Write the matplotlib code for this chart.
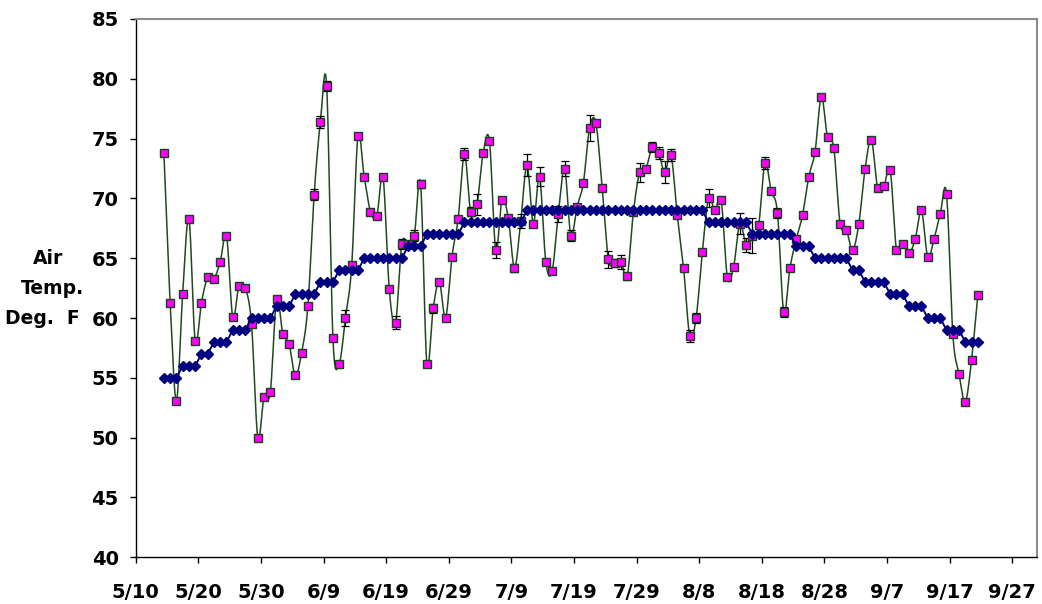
import numpy as np
import pandas as pd
import matplotlib
matplotlib.use("Agg")
import matplotlib.pyplot as plt
import matplotlib.dates as mdates

plt.rcParams["font.family"] = ["DejaVu Sans"]
plt.rcParams["font.weight"] = "bold"

# Daily mean air temperature (deg F), 5/14 through 9/21
observed = [
    73.8, 61.3, 53.1, 62.0, 68.3, 58.1, 61.3, 63.4, 63.3, 64.7,
    66.9, 60.1, 62.7, 62.5, 59.5, 50.0, 53.4, 53.8, 61.6, 58.7,
    57.8, 55.2, 57.1, 61.0, 70.3, 76.4, 79.4, 58.3, 56.2, 60.0,
    64.4, 75.2, 71.8, 68.9, 68.5, 71.8, 62.4, 59.6, 66.2, 66.2,
    66.9, 71.2, 56.2, 60.8, 63.0, 60.0, 65.1, 68.3, 73.7, 68.9,
    69.5, 73.8, 74.8, 65.7, 69.9, 68.4, 64.2, 68.1, 72.8, 67.9,
    71.8, 64.7, 63.9, 68.7, 72.5, 66.9, 69.3, 71.3, 75.9, 76.3,
    70.9, 64.9, 64.6, 64.7, 63.5, 68.9, 72.2, 72.5, 74.3, 73.8,
    72.2, 73.6, 68.6, 64.2, 58.5, 60.0, 65.5, 70.0, 69.0, 69.9,
    63.4, 64.3, 67.9, 66.1, 66.9, 67.8, 73.0, 70.6, 68.8, 60.5,
    64.2, 66.6, 68.6, 71.8, 73.9, 78.5, 75.1, 74.2, 67.9, 67.4,
    65.7, 67.9, 72.5, 74.9, 70.9, 71.0, 72.4, 65.7, 66.2, 65.4,
    66.6, 69.0, 65.1, 66.6, 68.7, 70.4, 58.7, 55.3, 53.0, 56.5,
    61.9,
]

# Uncertainty of each daily mean (deg F)
observed_err = [
    0.2, 0.2, 0.2, 0.2, 0.2, 0.2, 0.2, 0.2, 0.2, 0.2,
    0.2, 0.2, 0.2, 0.2, 0.2, 0.2, 0.2, 0.2, 0.2, 0.2,
    0.2, 0.2, 0.2, 0.2, 0.45, 0.5, 0.4, 0.2, 0.2, 0.7,
    0.2, 0.25, 0.2, 0.2, 0.2, 0.2, 0.2, 0.55, 0.4, 0.2,
    0.5, 0.3, 0.2, 0.35, 0.2, 0.2, 0.2, 0.2, 0.5, 0.4,
    0.85, 0.2, 0.2, 0.65, 0.2, 0.2, 0.35, 0.6, 0.95, 0.2,
    0.8, 0.2, 0.2, 0.65, 0.65, 0.5, 0.2, 0.2, 1.1, 0.2,
    0.2, 0.7, 0.3, 0.6, 0.3, 0.2, 0.8, 0.2, 0.4, 0.5,
    0.95, 0.5, 0.2, 0.2, 0.5, 0.45, 0.2, 0.75, 0.2, 0.2,
    0.2, 0.2, 0.9, 0.6, 1.45, 0.2, 0.5, 0.2, 0.4, 0.45,
    0.2, 0.2, 0.2, 0.2, 0.2, 0.2, 0.2, 0.2, 0.2, 0.2,
    0.2, 0.2, 0.2, 0.2, 0.2, 0.2, 0.2, 0.2, 0.2, 0.2,
    0.2, 0.2, 0.2, 0.2, 0.2, 0.2, 0.2, 0.2, 0.2, 0.2,
    0.2,
]

# Long-term normal daily temperature (deg F)
normal = [
    55, 55, 55, 56, 56, 56, 57, 57, 58, 58,
    58, 59, 59, 59, 60, 60, 60, 60, 61, 61,
    61, 62, 62, 62, 62, 63, 63, 63, 64, 64,
    64, 64, 65, 65, 65, 65, 65, 65, 65, 66,
    66, 66, 67, 67, 67, 67, 67, 67, 68, 68,
    68, 68, 68, 68, 68, 68, 68, 68, 69, 69,
    69, 69, 69, 69, 69, 69, 69, 69, 69, 69,
    69, 69, 69, 69, 69, 69, 69, 69, 69, 69,
    69, 69, 69, 69, 69, 69, 69, 68, 68, 68,
    68, 68, 68, 68, 67, 67, 67, 67, 67, 67,
    67, 66, 66, 66, 65, 65, 65, 65, 65, 65,
    64, 64, 63, 63, 63, 63, 62, 62, 62, 61,
    61, 61, 60, 60, 60, 59, 59, 59, 58, 58,
    58,
]

tick_labels = ["5/10", "5/20", "5/30", "6/9", "6/19", "6/29", "7/9", "7/19",
               "7/29", "8/8", "8/18", "8/28", "9/7", "9/17", "9/27"]
ylabel_lines = ["Air", "Temp.", "Deg.  F"]

dates = pd.date_range("2004-05-14 12:00", periods=len(observed), freq="D")
x = mdates.date2num(dates.to_pydatetime())
y_obs = np.asarray(observed, dtype=float)
y_norm = np.asarray(normal, dtype=float)
tick_dates = pd.date_range("2004-05-10", periods=len(tick_labels), freq="10D")
tick_x = mdates.date2num(tick_dates.to_pydatetime())


def smooth_curve(px, py, steps=16):
    """Bezier smoothing through every point (Catmull-Rom style tangents)."""
    pts = np.column_stack([px, py])
    ext = np.vstack([pts[:1], pts, pts[-1:]])
    t = np.linspace(0.0, 1.0, steps)[:, None]
    out = []
    for i in range(len(pts) - 1):
        p0, p3 = ext[i + 1], ext[i + 2]
        c1 = p0 + (ext[i + 2] - ext[i]) / 6.0
        c2 = p3 - (ext[i + 3] - ext[i + 1]) / 6.0
        seg = ((1 - t) ** 3) * p0 + 3 * ((1 - t) ** 2) * t * c1 \
            + 3 * (1 - t) * t ** 2 * c2 + t ** 3 * p3
        out.append(seg if i == 0 else seg[1:])
    out = np.vstack(out)
    return out[:, 0], out[:, 1]


W, H = 1042, 604
fig = plt.figure(figsize=(W / 100, H / 100), dpi=100)
ax = fig.add_axes([135.7 / W, 1 - 557.3 / H, (1037.3 - 135.7) / W, (557.3 - 19) / H])

green = "#1E4A1E"
navy = "#000080"

sx, sy = smooth_curve(x, y_obs)
ax.plot(sx, sy, color=green, lw=1.1, zorder=2)
ax.errorbar(x, y_obs, yerr=observed_err, fmt="none", ecolor="black",
            elinewidth=0.9, capsize=3.2, capthick=0.9, zorder=2.5)
ax.plot(x, y_obs, ls="none", marker="s", ms=6.4, mfc="#FF00FF",
        mec="#1A3F1A", mew=1.0, zorder=3)
ax.plot(x, y_norm, color=navy, lw=1.4, marker="D", ms=4.8,
        mfc=navy, mec=navy, zorder=4)

ax.set_xlim(tick_x[0], tick_x[0] + 144)
ax.set_ylim(40, 85)
ax.set_yticks(np.arange(40, 86, 5))
ax.set_xticks(tick_x)
ax.set_xticklabels(tick_labels)

for side in ("left", "bottom"):
    ax.spines[side].set_color("black")
    ax.spines[side].set_linewidth(1.0)
for side in ("top", "right"):
    ax.spines[side].set_color("#8C8C8C")
    ax.spines[side].set_linewidth(1.5)

ax.tick_params(axis="both", direction="out", length=4.3, width=1.0,
               colors="black", labelsize=14)
ax.tick_params(axis="x", pad=14)
ax.tick_params(axis="y", pad=8)
for lab in ax.get_xticklabels() + ax.get_yticklabels():
    lab.set_fontweight("bold")

# Three-line axis title to the left of the value labels
for text, xpix, ypix in zip(ylabel_lines, (48, 52, 42), (259, 289, 318)):
    fig.text(xpix / W, 1 - ypix / H, text, ha="center", va="center",
             fontsize=13.5, fontweight="bold")

fig.savefig("out.png", dpi=100)
